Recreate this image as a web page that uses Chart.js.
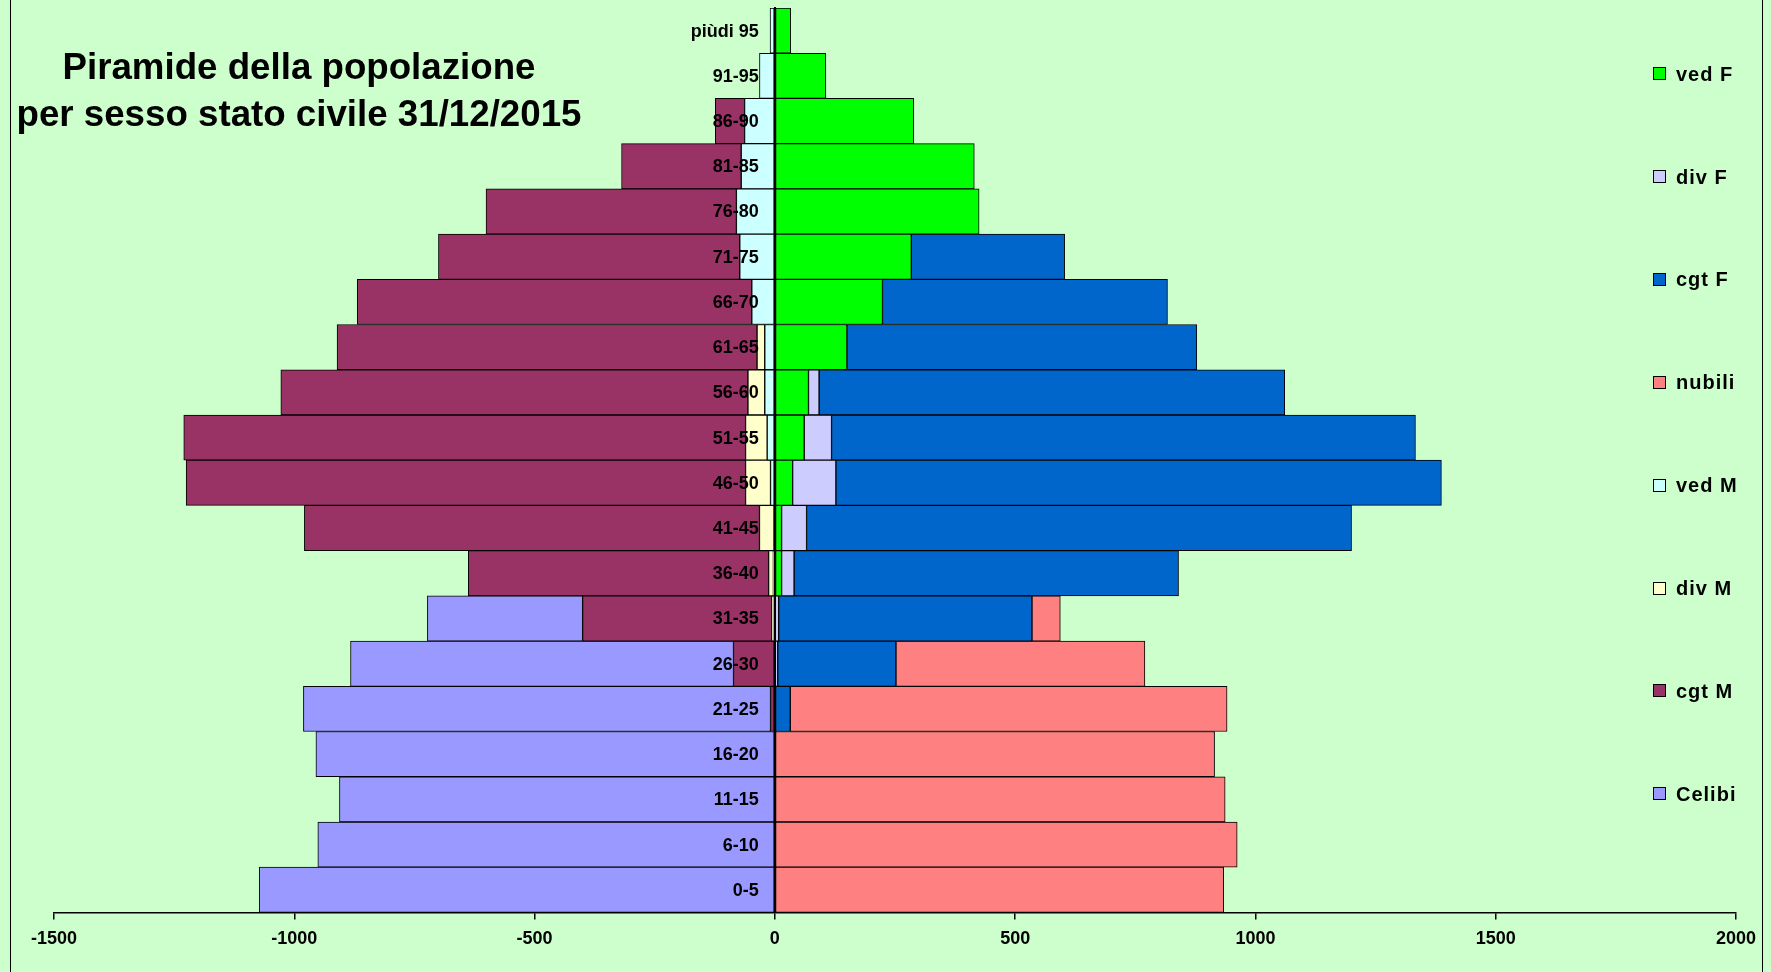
<!DOCTYPE html>
<html>
<head>
<meta charset="utf-8">
<script src="https://cdn.jsdelivr.net/npm/chart.js@4/dist/chart.umd.min.js"></script>
<style>
html,body{margin:0;padding:0;background:#CCFFCC;width:1771px;height:972px;overflow:hidden;font-family:"Liberation Sans",Arial,sans-serif;}
#wrap{position:relative;width:1771px;height:972px;}
#c{position:absolute;left:0;top:0;}
#frame{position:absolute;left:10px;top:-5px;width:1753px;height:990px;border-left:1.5px solid #000;border-right:1.5px solid #000;box-sizing:border-box;pointer-events:none;}
.title{position:absolute;left:0;width:598px;text-align:center;font-weight:bold;font-size:36.7px;line-height:37px;color:#000;white-space:nowrap;}
.item{position:absolute;left:1653px;height:20px;display:flex;align-items:center;font-weight:bold;font-size:20px;line-height:20px;letter-spacing:1px;color:#000;white-space:nowrap;}
.box{width:13px;height:13px;border:1px solid #000;box-sizing:border-box;margin-right:10px;}
</style>
</head>
<body>
<div id="wrap">
  <canvas id="c" width="1771" height="972"></canvas>
  <div id="frame"></div>
  <div class="title" style="top:48px">Piramide della popolazione</div>
  <div class="title" style="top:95px">per sesso stato civile 31/12/2015</div>
  <div id="legend"></div>
</div>
<script>
// Categories (top to bottom)
const ageGroups = ["piùdi 95","91-95","86-90","81-85","76-80","71-75","66-70","61-65","56-60","51-55","46-50","41-45","36-40","31-35","26-30","21-25","16-20","11-15","6-10","0-5"];

// Series values (females positive, males negative)
const vedF   = [33,106,289,415,425,284,224,150,70,61,37,14,14,1,1,0,0,0,0,0];
const divF   = [0,0,0,0,0,0,0,0,22,57,90,52,26,7,5,0,0,0,0,0];
const cgtF   = [0,0,0,0,0,319,593,728,969,1215,1260,1134,800,527,246,32,0,0,0,0];
const nubili = [0,0,0,0,0,0,0,0,0,0,0,0,0,59,518,909,915,937,962,934];
const vedM   = [-10,-32,-63,-70,-80,-73,-48,-21,-21,-16,-9,-2,-3,-3,-1,0,0,0,0,0];
const divM   = [0,0,0,0,0,0,0,-16,-35,-45,-52,-30,-10,-3,-1,0,0,0,0,0];
const cgtM   = [0,0,-61,-249,-521,-627,-821,-874,-972,-1169,-1164,-947,-625,-394,-84,-9,0,0,0,0];
const celibi = [0,0,0,0,0,0,0,0,0,0,0,0,0,-323,-797,-972,-955,-906,-951,-1073];

// Series names and colours (legend order, top to bottom)
const seriesNames  = ["ved F","div F","cgt F","nubili","ved M","div M","cgt M","Celibi"];
const seriesValues = [vedF, divF, cgtF, nubili, vedM, divM, cgtM, celibi];
const seriesColors = ["#00FF00","#CCCCFF","#0066CC","#FF8080","#CCFFFF","#FFFFCC","#993366","#9999FF"];

// X-axis tick labels
const xTicks = [-1500,-1000,-500,0,500,1000,1500,2000];

const FONT = '"Liberation Sans", Arial, sans-serif';

const datasets = seriesNames.map((name, i) => ({
  label: name,
  data: seriesValues[i],
  backgroundColor: seriesColors[i],
  borderColor: '#000000',
  borderWidth: 1,
  borderSkipped: false,
  categoryPercentage: 1.0,
  barPercentage: 1.0
}));

// Draws the category labels of the y scale just left of its (centred) axis line, above the bars
const categoryLabelPlugin = {
  id: 'categoryLabels',
  afterDatasetsDraw(chart) {
    const ys = chart.scales.y, xs = chart.scales.x;
    const ctx = chart.ctx;
    const x0 = xs.getPixelForValue(0);
    ctx.save();
    ctx.font = 'bold 18px ' + FONT;
    ctx.fillStyle = '#000';
    ctx.textAlign = 'right';
    ctx.textBaseline = 'middle';
    ys.ticks.forEach((t, i) => {
      ctx.fillText(ys.getLabelForValue(t.value), x0 - 16, ys.getPixelForTick(i) + 1);
    });
    ctx.restore();
  }
};

new Chart(document.getElementById('c'), {
  type: 'bar',
  data: { labels: ageGroups, datasets },
  plugins: [categoryLabelPlugin],
  options: {
    indexAxis: 'y',
    responsive: false,
    animation: false,
    events: [],
    layout: { padding: { left: 54, right: 35, top: 8, bottom: 13 } },
    plugins: { legend: { display: false }, tooltip: { enabled: false } },
    scales: {
      x: {
        type: 'linear',
        stacked: true,
        min: xTicks[0],
        max: xTicks[xTicks.length - 1],
        afterBuildTicks: (scale) => { scale.ticks = xTicks.map(v => ({ value: v })); },
        grid: { drawOnChartArea: false, drawTicks: true, tickLength: 7, color: '#000', lineWidth: 1.5 },
        border: { display: true, color: '#000', width: 1.5 },
        ticks: { color: '#000', padding: 9, maxRotation: 0, autoSkip: false,
                 callback: (v) => String(v),
                 font: { family: FONT, size: 18, weight: 'bold' } }
      },
      y: {
        type: 'category',
        stacked: true,
        position: { x: 0 },
        offset: true,
        grid: { drawOnChartArea: false, drawTicks: false },
        border: { display: true, color: '#000', width: 2, z: 1 },
        ticks: { display: false }
      }
    }
  }
});

// Legend (HTML, real text)
const legend = document.getElementById('legend');
seriesNames.forEach((name, i) => {
  const it = document.createElement('div');
  it.className = 'item';
  it.style.top = (73.7 + i * 102.86 - 10).toFixed(1) + 'px';
  const b = document.createElement('div');
  b.className = 'box';
  b.style.background = seriesColors[i];
  const t = document.createElement('span');
  t.textContent = name;
  it.appendChild(b); it.appendChild(t);
  legend.appendChild(it);
});
</script>
</body>
</html>
